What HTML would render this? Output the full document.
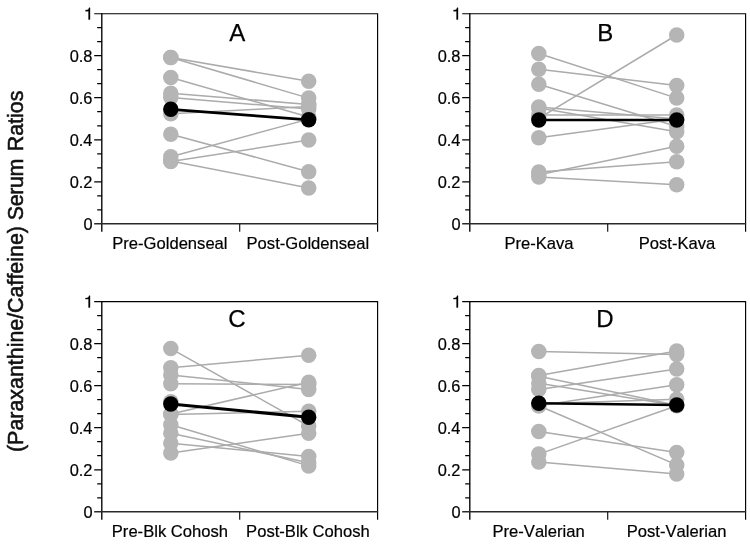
<!DOCTYPE html>
<html><head><meta charset="utf-8"><title>Figure</title>
<style>
html,body{margin:0;padding:0;background:#fff;}
body{width:750px;height:544px;overflow:hidden;font-family:"Liberation Sans",sans-serif;}
svg{display:block;filter:blur(0.3px);}
text{font-kerning:none;}
</style></head><body>
<svg width="750" height="544" viewBox="0 0 750 544">
<rect width="750" height="544" fill="#fff"/>
<g stroke="#ababab" stroke-width="1.5" fill="none">
<line x1="170.8" y1="57.5" x2="308.7" y2="81.3"/>
<line x1="170.8" y1="57.5" x2="308.7" y2="98.1"/>
<line x1="170.8" y1="77.5" x2="308.7" y2="117.0"/>
<line x1="170.8" y1="93.2" x2="308.7" y2="104.4"/>
<line x1="170.8" y1="97.4" x2="308.7" y2="109.0"/>
<line x1="170.8" y1="113.8" x2="308.7" y2="106.5"/>
<line x1="170.8" y1="134.2" x2="308.7" y2="171.7"/>
<line x1="170.8" y1="156.7" x2="308.7" y2="119.1"/>
<line x1="170.8" y1="161.6" x2="308.7" y2="140.1"/>
<line x1="170.8" y1="160.9" x2="308.7" y2="188.0"/>
</g>
<g fill="#b5b5b5">
<circle cx="170.8" cy="57.5" r="7.75"/>
<circle cx="308.7" cy="81.3" r="7.75"/>
<circle cx="170.8" cy="57.5" r="7.75"/>
<circle cx="308.7" cy="98.1" r="7.75"/>
<circle cx="170.8" cy="77.5" r="7.75"/>
<circle cx="308.7" cy="117.0" r="7.75"/>
<circle cx="170.8" cy="93.2" r="7.75"/>
<circle cx="308.7" cy="104.4" r="7.75"/>
<circle cx="170.8" cy="97.4" r="7.75"/>
<circle cx="308.7" cy="109.0" r="7.75"/>
<circle cx="170.8" cy="113.8" r="7.75"/>
<circle cx="308.7" cy="106.5" r="7.75"/>
<circle cx="170.8" cy="134.2" r="7.75"/>
<circle cx="308.7" cy="171.7" r="7.75"/>
<circle cx="170.8" cy="156.7" r="7.75"/>
<circle cx="308.7" cy="119.1" r="7.75"/>
<circle cx="170.8" cy="161.6" r="7.75"/>
<circle cx="308.7" cy="140.1" r="7.75"/>
<circle cx="170.8" cy="160.9" r="7.75"/>
<circle cx="308.7" cy="188.0" r="7.75"/>
</g>
<line x1="170.8" y1="109.3" x2="308.7" y2="119.8" stroke="#000" stroke-width="2.8"/>
<circle cx="170.8" cy="109.3" r="7.7" fill="#000"/>
<circle cx="308.7" cy="119.8" r="7.7" fill="#000"/>
<path d="M94.2 13.7H377.6V231.8" stroke="#000" stroke-width="1.15" fill="none"/>
<path d="M101.8 13.2V231.8" stroke="#000" stroke-width="1.35" fill="none"/>
<path d="M94.2 223.8H378.1" stroke="#2a2a2a" stroke-width="1.5" fill="none"/>
<path d="M97.2 209.8H101.8M97.2 195.8H101.8M94.2 181.8H101.8M97.2 167.8H101.8M97.2 153.8H101.8M94.2 139.8H101.8M97.2 125.8H101.8M97.2 111.7H101.8M94.2 97.7H101.8M97.2 83.7H101.8M97.2 69.7H101.8M94.2 55.7H101.8M97.2 41.7H101.8M97.2 27.7H101.8" stroke="#000" stroke-width="1.2" fill="none"/>
<path d="M239.7 223.8v7.9" stroke="#111" stroke-width="1.15" fill="none"/>
<g font-family="Liberation Sans, sans-serif" font-size="16.4" fill="#000" stroke="#000" stroke-width="0.2" text-anchor="end">
<text x="92.5" y="230.0">0</text>
<text x="92.5" y="188.0">0.2</text>
<text x="92.5" y="146.0">0.4</text>
<text x="92.5" y="103.9">0.6</text>
<text x="92.5" y="61.9">0.8</text>
<path d="M90.00 19.85L88.56 19.85L88.56 11.57L85.55 11.57L85.55 10.53L87.11 10.44L88.18 10.04L88.77 9.19L89.03 8.22L90.00 8.22Z" stroke-linejoin="round" stroke-width="0.35" transform="translate(0 -0.4)"/>
</g>
<g font-family="Liberation Sans, sans-serif" font-size="16.6" fill="#000" stroke="#000" stroke-width="0.2" text-anchor="middle">
<text x="169.9" y="249.3">Pre-Goldenseal</text>
<text x="307.9" y="249.3">Post-Goldenseal</text>
</g>
<text x="229.2" y="40.8" font-family="Liberation Sans, sans-serif" font-size="24" fill="#000" stroke="#000" stroke-width="0.25">A</text>
<g stroke="#ababab" stroke-width="1.5" fill="none">
<line x1="538.8" y1="53.5" x2="676.7" y2="98.1"/>
<line x1="538.8" y1="69.3" x2="676.7" y2="85.5"/>
<line x1="538.8" y1="84.2" x2="676.7" y2="126.5"/>
<line x1="538.8" y1="106.9" x2="676.7" y2="119.1"/>
<line x1="538.8" y1="108.0" x2="676.7" y2="131.7"/>
<line x1="538.8" y1="114.9" x2="676.7" y2="114.9"/>
<line x1="538.8" y1="118.3" x2="676.7" y2="35.0"/>
<line x1="538.8" y1="137.8" x2="676.7" y2="119.1"/>
<line x1="538.8" y1="172.1" x2="676.7" y2="161.8"/>
<line x1="538.8" y1="174.8" x2="676.7" y2="146.2"/>
<line x1="538.8" y1="176.9" x2="676.7" y2="184.7"/>
</g>
<g fill="#b5b5b5">
<circle cx="538.8" cy="53.5" r="7.75"/>
<circle cx="676.7" cy="98.1" r="7.75"/>
<circle cx="538.8" cy="69.3" r="7.75"/>
<circle cx="676.7" cy="85.5" r="7.75"/>
<circle cx="538.8" cy="84.2" r="7.75"/>
<circle cx="676.7" cy="126.5" r="7.75"/>
<circle cx="538.8" cy="106.9" r="7.75"/>
<circle cx="676.7" cy="119.1" r="7.75"/>
<circle cx="538.8" cy="108.0" r="7.75"/>
<circle cx="676.7" cy="131.7" r="7.75"/>
<circle cx="538.8" cy="114.9" r="7.75"/>
<circle cx="676.7" cy="114.9" r="7.75"/>
<circle cx="538.8" cy="118.3" r="7.75"/>
<circle cx="676.7" cy="35.0" r="7.75"/>
<circle cx="538.8" cy="137.8" r="7.75"/>
<circle cx="676.7" cy="119.1" r="7.75"/>
<circle cx="538.8" cy="172.1" r="7.75"/>
<circle cx="676.7" cy="161.8" r="7.75"/>
<circle cx="538.8" cy="174.8" r="7.75"/>
<circle cx="676.7" cy="146.2" r="7.75"/>
<circle cx="538.8" cy="176.9" r="7.75"/>
<circle cx="676.7" cy="184.7" r="7.75"/>
</g>
<line x1="538.8" y1="120.0" x2="676.7" y2="120.0" stroke="#000" stroke-width="2.5"/>
<circle cx="538.8" cy="120.0" r="7.7" fill="#000"/>
<circle cx="676.7" cy="120.0" r="7.7" fill="#000"/>
<path d="M462.2 13.7H745.6V231.8" stroke="#000" stroke-width="1.15" fill="none"/>
<path d="M469.8 13.2V231.8" stroke="#000" stroke-width="1.35" fill="none"/>
<path d="M462.2 223.8H746.1" stroke="#2a2a2a" stroke-width="1.5" fill="none"/>
<path d="M465.2 209.8H469.8M465.2 195.8H469.8M462.2 181.8H469.8M465.2 167.8H469.8M465.2 153.8H469.8M462.2 139.8H469.8M465.2 125.8H469.8M465.2 111.7H469.8M462.2 97.7H469.8M465.2 83.7H469.8M465.2 69.7H469.8M462.2 55.7H469.8M465.2 41.7H469.8M465.2 27.7H469.8" stroke="#000" stroke-width="1.2" fill="none"/>
<path d="M607.7 223.8v7.9" stroke="#111" stroke-width="1.15" fill="none"/>
<g font-family="Liberation Sans, sans-serif" font-size="16.4" fill="#000" stroke="#000" stroke-width="0.2" text-anchor="end">
<text x="460.5" y="230.0">0</text>
<text x="460.5" y="188.0">0.2</text>
<text x="460.5" y="146.0">0.4</text>
<text x="460.5" y="103.9">0.6</text>
<text x="460.5" y="61.9">0.8</text>
<path d="M458.00 19.85L456.56 19.85L456.56 11.57L453.55 11.57L453.55 10.53L455.11 10.44L456.18 10.04L456.77 9.19L457.03 8.22L458.00 8.22Z" stroke-linejoin="round" stroke-width="0.35" transform="translate(0 -0.4)"/>
</g>
<g font-family="Liberation Sans, sans-serif" font-size="16.6" fill="#000" stroke="#000" stroke-width="0.2" text-anchor="middle">
<text x="539.0" y="249.3">Pre-Kava</text>
<text x="677.0" y="249.3">Post-Kava</text>
</g>
<text x="597.2" y="41.0" font-family="Liberation Sans, sans-serif" font-size="24" fill="#000" stroke="#000" stroke-width="0.25">B</text>
<g stroke="#ababab" stroke-width="1.5" fill="none">
<line x1="170.8" y1="348.6" x2="308.7" y2="426.0"/>
<line x1="170.8" y1="367.7" x2="308.7" y2="355.3"/>
<line x1="170.8" y1="374.9" x2="308.7" y2="389.4"/>
<line x1="170.8" y1="383.7" x2="308.7" y2="384.6"/>
<line x1="170.8" y1="414.0" x2="308.7" y2="382.2"/>
<line x1="170.8" y1="414.4" x2="308.7" y2="411.3"/>
<line x1="170.8" y1="424.7" x2="308.7" y2="465.9"/>
<line x1="170.8" y1="433.3" x2="308.7" y2="462.8"/>
<line x1="170.8" y1="443.2" x2="308.7" y2="456.4"/>
<line x1="170.8" y1="452.9" x2="308.7" y2="433.3"/>
</g>
<g fill="#b5b5b5">
<circle cx="170.8" cy="348.6" r="7.75"/>
<circle cx="308.7" cy="426.0" r="7.75"/>
<circle cx="170.8" cy="367.7" r="7.75"/>
<circle cx="308.7" cy="355.3" r="7.75"/>
<circle cx="170.8" cy="374.9" r="7.75"/>
<circle cx="308.7" cy="389.4" r="7.75"/>
<circle cx="170.8" cy="383.7" r="7.75"/>
<circle cx="308.7" cy="384.6" r="7.75"/>
<circle cx="170.8" cy="414.0" r="7.75"/>
<circle cx="308.7" cy="382.2" r="7.75"/>
<circle cx="170.8" cy="414.4" r="7.75"/>
<circle cx="308.7" cy="411.3" r="7.75"/>
<circle cx="170.8" cy="424.7" r="7.75"/>
<circle cx="308.7" cy="465.9" r="7.75"/>
<circle cx="170.8" cy="433.3" r="7.75"/>
<circle cx="308.7" cy="462.8" r="7.75"/>
<circle cx="170.8" cy="443.2" r="7.75"/>
<circle cx="308.7" cy="456.4" r="7.75"/>
<circle cx="170.8" cy="452.9" r="7.75"/>
<circle cx="308.7" cy="433.3" r="7.75"/>
<circle cx="170.8" cy="401.8" r="7.75"/>
</g>
<line x1="170.8" y1="404.0" x2="308.7" y2="417.2" stroke="#000" stroke-width="3.0"/>
<circle cx="170.8" cy="404.0" r="7.7" fill="#000"/>
<circle cx="308.7" cy="417.2" r="7.7" fill="#000"/>
<path d="M94.2 301.6H377.6V519.7" stroke="#000" stroke-width="1.15" fill="none"/>
<path d="M101.8 301.1V519.7" stroke="#000" stroke-width="1.35" fill="none"/>
<path d="M94.2 511.8H378.1" stroke="#2a2a2a" stroke-width="1.5" fill="none"/>
<path d="M97.2 497.8H101.8M97.2 483.8H101.8M94.2 469.8H101.8M97.2 455.7H101.8M97.2 441.7H101.8M94.2 427.7H101.8M97.2 413.7H101.8M97.2 399.7H101.8M94.2 385.7H101.8M97.2 371.7H101.8M97.2 357.7H101.8M94.2 343.6H101.8M97.2 329.6H101.8M97.2 315.6H101.8" stroke="#000" stroke-width="1.2" fill="none"/>
<path d="M239.7 511.8v7.9" stroke="#111" stroke-width="1.15" fill="none"/>
<g font-family="Liberation Sans, sans-serif" font-size="16.4" fill="#000" stroke="#000" stroke-width="0.2" text-anchor="end">
<text x="92.5" y="518.0">0</text>
<text x="92.5" y="476.0">0.2</text>
<text x="92.5" y="433.9">0.4</text>
<text x="92.5" y="391.9">0.6</text>
<text x="92.5" y="349.8">0.8</text>
<path d="M90.00 307.80L88.56 307.80L88.56 299.52L85.55 299.52L85.55 298.48L87.11 298.39L88.18 297.99L88.77 297.14L89.03 296.17L90.00 296.17Z" stroke-linejoin="round" stroke-width="0.35" transform="translate(0 -0.4)"/>
</g>
<g font-family="Liberation Sans, sans-serif" font-size="16.6" fill="#000" stroke="#000" stroke-width="0.2" text-anchor="middle">
<text x="169.9" y="537.3">Pre-Blk Cohosh</text>
<text x="307.9" y="537.3">Post-Blk Cohosh</text>
</g>
<text x="228.2" y="326.5" font-family="Liberation Sans, sans-serif" font-size="24" fill="#000" stroke="#000" stroke-width="0.25">C</text>
<g stroke="#ababab" stroke-width="1.5" fill="none">
<line x1="538.8" y1="351.6" x2="676.7" y2="354.5"/>
<line x1="538.8" y1="375.5" x2="676.7" y2="350.9"/>
<line x1="538.8" y1="376.2" x2="676.7" y2="405.2"/>
<line x1="538.8" y1="383.3" x2="676.7" y2="405.6"/>
<line x1="538.8" y1="389.6" x2="676.7" y2="369.0"/>
<line x1="538.8" y1="405.8" x2="676.7" y2="384.8"/>
<line x1="538.8" y1="403.7" x2="676.7" y2="399.3"/>
<line x1="538.8" y1="405.8" x2="676.7" y2="464.9"/>
<line x1="538.8" y1="431.4" x2="676.7" y2="452.5"/>
<line x1="538.8" y1="454.1" x2="676.7" y2="405.8"/>
<line x1="538.8" y1="461.9" x2="676.7" y2="473.9"/>
</g>
<g fill="#b5b5b5">
<circle cx="538.8" cy="351.6" r="7.75"/>
<circle cx="676.7" cy="354.5" r="7.75"/>
<circle cx="538.8" cy="375.5" r="7.75"/>
<circle cx="676.7" cy="350.9" r="7.75"/>
<circle cx="538.8" cy="376.2" r="7.75"/>
<circle cx="676.7" cy="405.2" r="7.75"/>
<circle cx="538.8" cy="383.3" r="7.75"/>
<circle cx="676.7" cy="405.6" r="7.75"/>
<circle cx="538.8" cy="389.6" r="7.75"/>
<circle cx="676.7" cy="369.0" r="7.75"/>
<circle cx="538.8" cy="405.8" r="7.75"/>
<circle cx="676.7" cy="384.8" r="7.75"/>
<circle cx="538.8" cy="403.7" r="7.75"/>
<circle cx="676.7" cy="399.3" r="7.75"/>
<circle cx="538.8" cy="405.8" r="7.75"/>
<circle cx="676.7" cy="464.9" r="7.75"/>
<circle cx="538.8" cy="431.4" r="7.75"/>
<circle cx="676.7" cy="452.5" r="7.75"/>
<circle cx="538.8" cy="454.1" r="7.75"/>
<circle cx="676.7" cy="405.8" r="7.75"/>
<circle cx="538.8" cy="461.9" r="7.75"/>
<circle cx="676.7" cy="473.9" r="7.75"/>
</g>
<line x1="538.8" y1="403.3" x2="676.7" y2="405.0" stroke="#000" stroke-width="2.6"/>
<circle cx="538.8" cy="403.3" r="7.7" fill="#000"/>
<circle cx="676.7" cy="405.0" r="7.7" fill="#000"/>
<path d="M462.2 301.6H745.6V519.7" stroke="#000" stroke-width="1.15" fill="none"/>
<path d="M469.8 301.1V519.7" stroke="#000" stroke-width="1.35" fill="none"/>
<path d="M462.2 511.8H746.1" stroke="#2a2a2a" stroke-width="1.5" fill="none"/>
<path d="M465.2 497.8H469.8M465.2 483.8H469.8M462.2 469.8H469.8M465.2 455.7H469.8M465.2 441.7H469.8M462.2 427.7H469.8M465.2 413.7H469.8M465.2 399.7H469.8M462.2 385.7H469.8M465.2 371.7H469.8M465.2 357.7H469.8M462.2 343.6H469.8M465.2 329.6H469.8M465.2 315.6H469.8" stroke="#000" stroke-width="1.2" fill="none"/>
<path d="M607.7 511.8v7.9" stroke="#111" stroke-width="1.15" fill="none"/>
<g font-family="Liberation Sans, sans-serif" font-size="16.4" fill="#000" stroke="#000" stroke-width="0.2" text-anchor="end">
<text x="460.5" y="518.0">0</text>
<text x="460.5" y="476.0">0.2</text>
<text x="460.5" y="433.9">0.4</text>
<text x="460.5" y="391.9">0.6</text>
<text x="460.5" y="349.8">0.8</text>
<path d="M458.00 307.80L456.56 307.80L456.56 299.52L453.55 299.52L453.55 298.48L455.11 298.39L456.18 297.99L456.77 297.14L457.03 296.17L458.00 296.17Z" stroke-linejoin="round" stroke-width="0.35" transform="translate(0 -0.4)"/>
</g>
<g font-family="Liberation Sans, sans-serif" font-size="16.6" fill="#000" stroke="#000" stroke-width="0.2" text-anchor="middle">
<text x="538.6" y="537.3">Pre-Valerian</text>
<text x="676.6" y="537.3">Post-Valerian</text>
</g>
<text x="596.3" y="326.6" font-family="Liberation Sans, sans-serif" font-size="24" fill="#000" stroke="#000" stroke-width="0.25">D</text>
<text transform="translate(22.6 452.0) rotate(-90)" font-family="Liberation Sans, sans-serif" font-size="21.4" fill="#111" stroke="#111" stroke-width="0.55">(Paraxanthine/Caffeine) <tspan letter-spacing="-0.36">Serum</tspan><tspan dx="1.8"> Ratios</tspan></text>
</svg>
</body></html>
